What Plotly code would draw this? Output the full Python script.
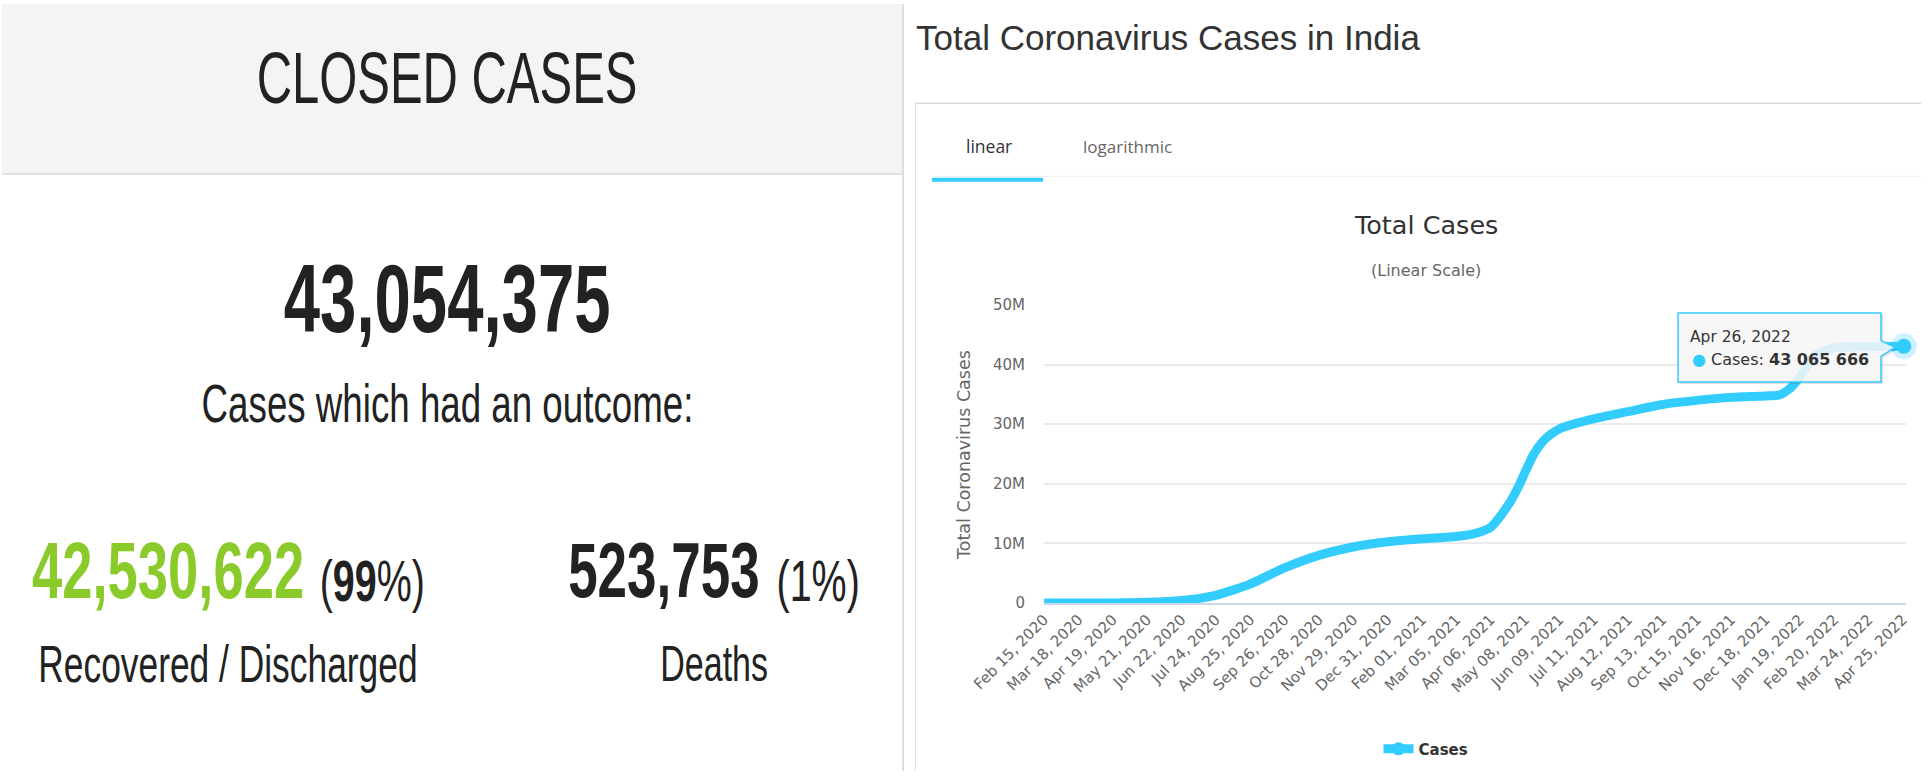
import json
import plotly.graph_objects as go

# values, at the axis ticks plus extra readings where the curve bends
dates = ["2020-02-15", "2020-03-18", "2020-04-19", "2020-05-21", "2020-06-22", "2020-07-24",
         "2020-08-25", "2020-09-26", "2020-10-28", "2020-11-29", "2020-12-31", "2021-02-01",
         "2021-03-05", "2021-03-20", "2021-04-06", "2021-04-22", "2021-05-03", "2021-05-08",
         "2021-05-16", "2021-05-25", "2021-06-01", "2021-06-09", "2021-06-20", "2021-07-11",
         "2021-08-12", "2021-09-13", "2021-10-15", "2021-11-16", "2021-12-18", "2021-12-31",
         "2022-01-10", "2022-01-19", "2022-01-28", "2022-02-05", "2022-02-20", "2022-03-24",
         "2022-04-25", "2022-04-26"]
cases = [3, 100, 18000, 112000, 430000, 1290000,
         3170000, 5900000, 8000000, 9400000, 10270000, 10770000,
         11160000, 11550000, 12700000, 16300000, 19900000, 21900000,
         24900000, 27200000, 28300000, 29200000, 29900000, 30900000,
         32100000, 33300000, 34000000, 34500000, 34750000, 34900000,
         36000000, 37900000, 40400000, 41900000, 42800000, 43000000,
         43060000, 43065666]
tick_dates = ["2020-02-15", "2020-03-18", "2020-04-19", "2020-05-21", "2020-06-22", "2020-07-24",
              "2020-08-25", "2020-09-26", "2020-10-28", "2020-11-29", "2020-12-31", "2021-02-01",
              "2021-03-05", "2021-04-06", "2021-05-08", "2021-06-09", "2021-07-11", "2021-08-12",
              "2021-09-13", "2021-10-15", "2021-11-16", "2021-12-18", "2022-01-19", "2022-02-20",
              "2022-03-24", "2022-04-25"]
x_labels = ["Feb 15, 2020", "Mar 18, 2020", "Apr 19, 2020", "May 21, 2020", "Jun 22, 2020", "Jul 24, 2020",
            "Aug 25, 2020", "Sep 26, 2020", "Oct 28, 2020", "Nov 29, 2020", "Dec 31, 2020", "Feb 01, 2021",
            "Mar 05, 2021", "Apr 06, 2021", "May 08, 2021", "Jun 09, 2021", "Jul 11, 2021", "Aug 12, 2021",
            "Sep 13, 2021", "Oct 15, 2021", "Nov 16, 2021", "Dec 18, 2021", "Jan 19, 2022", "Feb 20, 2022",
            "Mar 24, 2022", "Apr 25, 2022"]
y_ticks = [0, 10000000, 20000000, 30000000, 40000000, 50000000]
y_labels = ["0", "10M", "20M", "30M", "40M", "50M"]

W, H = 1931, 777
LEFT, RIGHT, TOP, BOTTOM = 1044, 1906, 305, 607
BLUE = "#33ccff"
SANS = "DejaVu Sans"
ARIAL = "Liberation Sans"
SQUEEZE = 0.68  # the left panel of the reference is a horizontally squashed screenshot


def px(x):
    return (x - LEFT) / (RIGHT - LEFT)


def py(y):
    return (BOTTOM - y) / (BOTTOM - TOP)


def label(text, x, y, size, color="#222222", family=ARIAL, anchor="center"):
    return dict(text=text, x=px(x), y=py(y), xref="paper", yref="paper", showarrow=False,
                xanchor=anchor, yanchor="middle", font=dict(family=family, size=size, color=color))


def box(x0, y0, x1, y1, color, layer="below"):
    return dict(type="rect", xref="paper", yref="paper", x0=px(x0), x1=px(x1), y0=py(y0), y1=py(y1),
                fillcolor=color, line_width=0, layer=layer)


def outline(points, fill, border, width=1.5):
    path = "M " + " L ".join(f"{px(a)},{py(b)}" for a, b in points) + " Z"
    return dict(type="path", xref="paper", yref="paper", path=path, fillcolor=fill,
                line=dict(color=border, width=width), layer="above")


fig = go.Figure()
fig.add_trace(go.Scatter(x=dates, y=cases, mode="lines", showlegend=False,
                         line=dict(color=BLUE, width=9, shape="spline", smoothing=0.6)))
fig.add_trace(go.Scatter(x=dates[-1:], y=cases[-1:], mode="markers", showlegend=False, cliponaxis=False,
                         marker=dict(color=BLUE, size=15, line=dict(color="rgba(51,204,255,0.25)", width=11))))
# legend entry only, line and blob like the reference
fig.add_trace(go.Scatter(x=dates[:1], y=[None], name="Cases", mode="lines+markers",
                         line=dict(color=BLUE, width=9), marker=dict(color=BLUE, size=13)))

tooltip = [(1678, 313), (1881, 313), (1881, 341), (1895, 348), (1881, 357), (1881, 383), (1678, 383)]
shadow = [(a + 2, b + 2) for a, b in tooltip]

# left panel texts come first, they get squeezed around their centres after drawing
left_texts = [
    label("CLOSED CASES", 447, 75, 72),
    label("<b>43,054,375</b>", 447, 298, 96),
    label("Cases which had an outcome:", 447, 404, 54),
    label("<b>42,530,622</b>", 168, 574, 80, color="#8aca2b"),
    label("(<b>99</b>%)", 372, 584, 58),
    label("Recovered / Discharged", 228, 669, 52),
    label("<b>523,753</b>", 664, 574, 78),
    label("(1%)", 818, 584, 58),
    label("Deaths", 714, 669, 50),
]
left_centres = [a["x"] * (RIGHT - LEFT) + LEFT for a in left_texts]

fig.update_layout(
    width=W, height=H,
    margin=dict(l=LEFT, r=W - RIGHT, t=TOP, b=H - BOTTOM),
    paper_bgcolor="white", plot_bgcolor="white",
    showlegend=True,
    legend=dict(x=px(1426), y=py(755), xanchor="center", yanchor="middle", orientation="h",
                font=dict(family=SANS, size=15, color="#333333", weight="bold")),
    xaxis=dict(type="date", range=["2020-02-15", "2022-04-28"], tickvals=tick_dates, ticktext=x_labels,
               tickangle=-45, showgrid=False, showline=True, linecolor="#ccd6eb", linewidth=2,
               tickfont=dict(family=SANS, size=15, color="#666666")),
    yaxis=dict(range=[0, 50000000], tickvals=y_ticks, ticktext=y_labels, gridcolor="#ebebeb", gridwidth=2,
               zeroline=False, ticklabelstandoff=18,
               tickfont=dict(family=SANS, size=15, color="#666666")),
    shapes=[
        box(2, 0, 902, 171, "#f4f4f4"),
        box(2, 171, 902, 173, "#dddddd"),
        box(902, 0, 904, H, "#dddddd"),
        box(915, 100, 1921, 101, "#cccccc"),
        box(915, 100, 916, H, "#dddddd"),
        box(932, 174, 1921, 175, "#eeeeee"),
        box(932, 176, 1043, 180, BLUE),
        outline(shadow, "rgba(0,0,0,0.12)", "rgba(0,0,0,0)", 0),
        outline(tooltip, "rgba(250,250,250,0.85)", BLUE),
    ],
    annotations=left_texts + [
        label("Total Coronavirus Cases in India", 914, 34, 35, color="#333333", anchor="left"),
        label("linear", 989, 144, 17.5, color="#333333", family="Open Sans"),
        label("logarithmic", 1127, 144, 17, color="#666666", family="Open Sans"),
        label("Total Cases", 1426, 224, 25.5, color="#333333", family=SANS),
        label("(Linear Scale)", 1426, 270, 16, color="#666666", family=SANS),
        dict(label("Total Coronavirus Cases", 964, 457, 17.5, color="#666666", family=SANS), textangle=-90),
        label("Apr 26, 2022", 1688, 337, 15.5, color="#333333", family=SANS, anchor="left"),
        label(f'<span style="color:{BLUE}">●</span> Cases: <b>{cases[-1]:,}</b>'.replace(",", " "),
              1690, 360, 16, color="#333333", family=SANS, anchor="left"),
    ],
)

squeeze_js = """
document.body.style.margin='0';
document.documentElement.style.overflow='hidden';
var centres = %s;
document.querySelectorAll('g.annotation').forEach(function (g) {
    var i = parseInt(g.getAttribute('data-index'));
    if (i < centres.length) {
        g.setAttribute('transform', 'translate(' + centres[i] + ',0) scale(%s,1) translate(' + (-centres[i]) + ',0)');
    }
});
""" % (json.dumps(left_centres), SQUEEZE)

fig.write_html("out.html", config={"displayModeBar": False}, post_script=squeeze_js)
